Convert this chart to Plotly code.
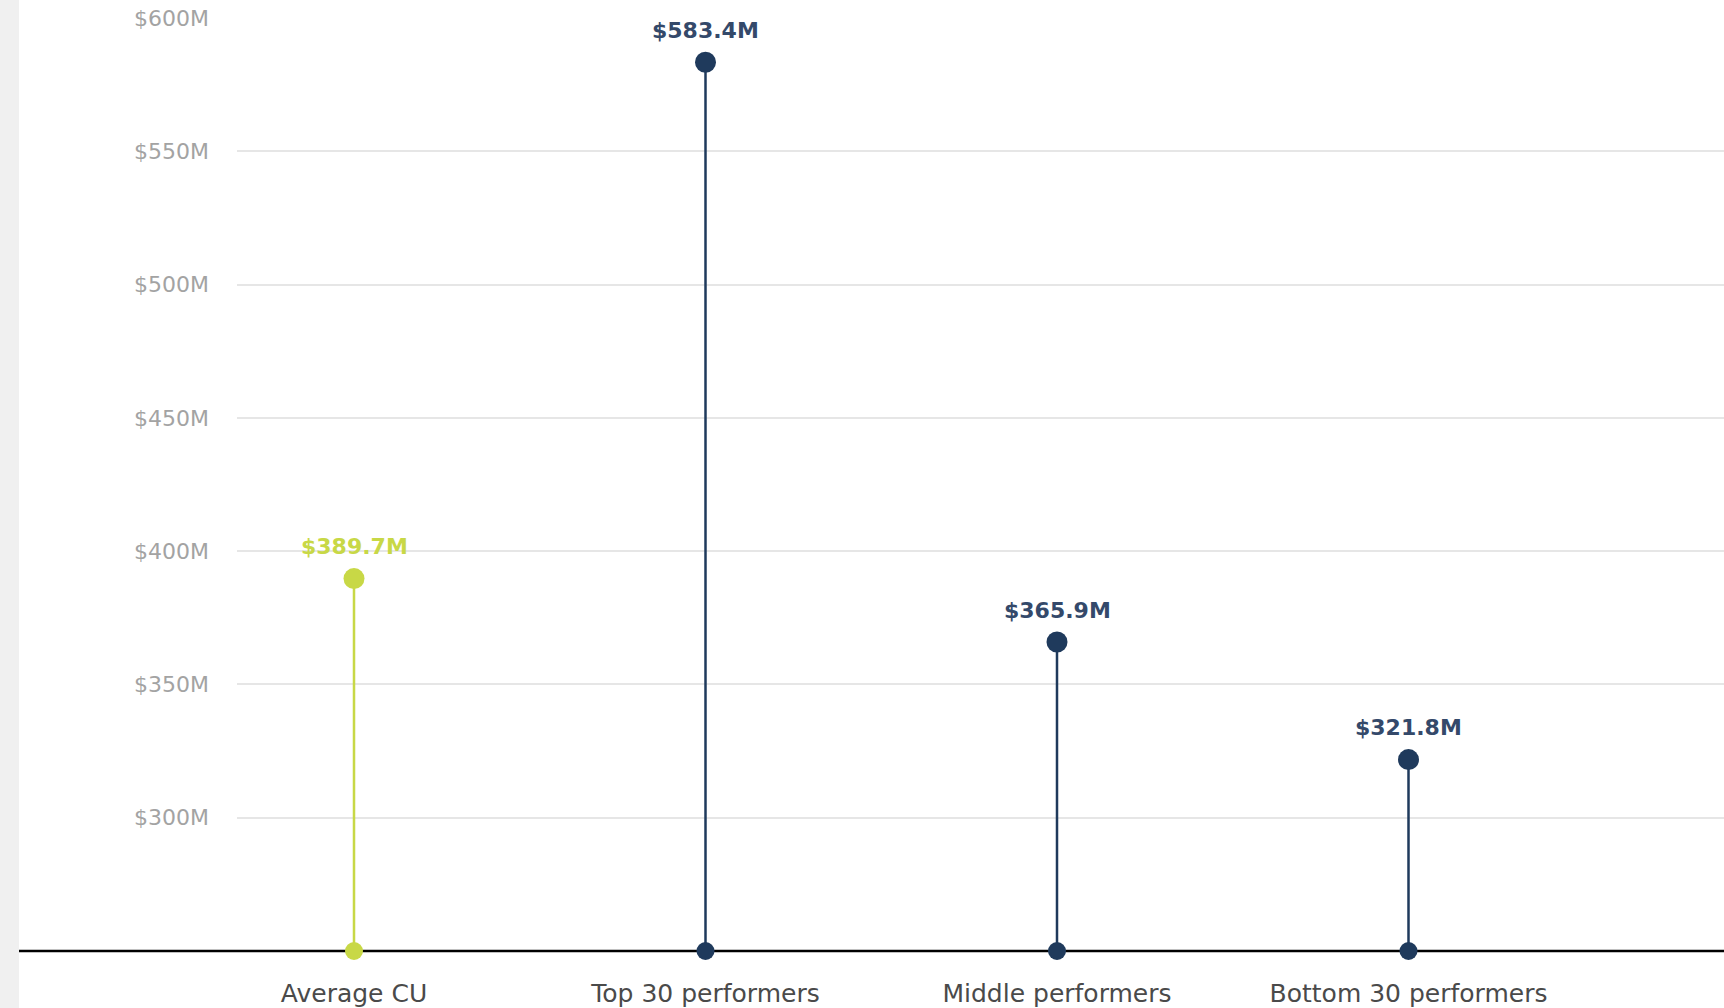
import plotly.graph_objects as go

categories = ["Average CU", "Top 30 performers", "Middle performers", "Bottom 30 performers"]
values = [389.7, 583.4, 365.9, 321.8]
value_labels = ["$389.7M", "$583.4M", "$365.9M", "$321.8M"]
series_colors = ["#c8d846", "#1f3a5c"]
label_colors = ["#c8d846", "#34496a"]
tick_vals = [300, 350, 400, 450, 500, 550, 600]
tick_text = ["$300M", "$350M", "$400M", "$450M", "$500M", "$550M", "$600M"]
y_base = 250
y_top = 600

W, H = 1724, 1008
ml, mr, mt, mb = 237, 0, 18, 57
pw, ph = W - ml - mr, H - mt - mb

fig = go.Figure()
for i, (cat, v) in enumerate(zip(categories, values)):
    c = series_colors[0] if i == 0 else series_colors[1]
    fig.add_trace(go.Scatter(
        x=[i, i], y=[y_base, v], mode="lines+markers",
        line=dict(color=c, width=2.5),
        marker=dict(color=c, size=[18, 21], opacity=1, line=dict(width=0)),
        cliponaxis=False, hoverinfo="skip", showlegend=False,
    ))
    fig.add_annotation(
        x=i, y=v, text=value_labels[i], showarrow=False, yshift=32,
        font=dict(family="DejaVu Sans", size=22, color=label_colors[0] if i == 0 else label_colors[1], weight="bold"),
    )

# left grey strip
fig.add_shape(type="rect", xref="paper", yref="paper",
              x0=-ml / pw, x1=(19 - ml) / pw, y0=-mb / ph, y1=1 + mt / ph,
              fillcolor="#f0f0f0", line=dict(width=0), layer="below")
# baseline
fig.add_shape(type="line", xref="paper", yref="paper",
              x0=(19 - ml) / pw, x1=1, y0=0, y1=0,
              line=dict(color="#000000", width=2.5), layer="below")

px_per_cat = 351.5
x0 = -(354 - ml) / px_per_cat
x1 = x0 + pw / px_per_cat

fig.update_layout(
    width=W, height=H,
    margin=dict(l=ml, r=mr, t=mt, b=mb),
    paper_bgcolor="#ffffff", plot_bgcolor="#ffffff",
    xaxis=dict(range=[x0, x1], tickvals=list(range(len(categories))), ticktext=categories,
               showgrid=False, zeroline=False, showline=False, ticks="",
               tickfont=dict(family="DejaVu Sans", size=25, color="#4a4a4a"),
               ticklabelstandoff=25),
    yaxis=dict(range=[y_base, y_top], tickvals=tick_vals, ticktext=tick_text,
               showgrid=True, gridcolor="#e6e6e6", gridwidth=1.5, zeroline=False, showline=False,
               ticks="", tickfont=dict(family="DejaVu Sans", size=22, color="#a3a3a3"),
               ticklabelstandoff=27),
)

fig.write_html("out.html")
